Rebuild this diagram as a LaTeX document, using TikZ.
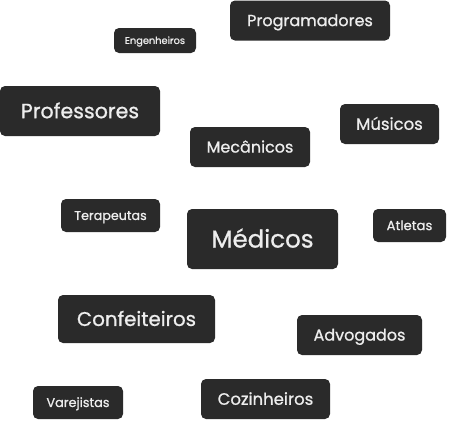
\documentclass[tikz,border=0pt]{standalone}
\usepackage{fontspec}
\setmainfont{Poppins}[FakeBold=0.9]
\definecolor{boxfill}{HTML}{2A2A2A}
\definecolor{boxtext}{HTML}{EDEDED}
\tikzset{
  tag/.style={fill=boxfill, text=boxtext, rounded corners=5pt, inner sep=0pt, anchor=center,
    font=\fontsize{#1}{#1}\selectfont,
    /utils/exec={\pgfmathsetmacro\capht{0.7*#1}},
    text height=\capht pt, text depth=0pt},
}
\begin{document}
\begin{tikzpicture}[x=1pt,y=-1pt]
\path[use as bounding box] (0,0) rectangle (473,429);
\node[tag=16, minimum width=160pt, minimum height=40pt] (prog) at (310,20.5) {Programadores};
\node[tag=9.8, minimum width=82pt, minimum height=25pt] (eng) at (155,40.5) {Engenheiros};
\node[tag=20.6, minimum width=160pt, minimum height=50pt] (prof) at (80,111) {Professores};
\node[tag=16.5, minimum width=99pt, minimum height=40pt] (mus) at (389.5,124) {Músicos};
\node[tag=16, minimum width=120pt, minimum height=40pt] (mec) at (250,147) {Mecânicos};
\node[tag=12.7, minimum width=99pt, minimum height=33pt] (ter) at (110.5,215.5) {Terapeutas};
\node[tag=24.5, minimum width=151pt, minimum height=60pt] (med) at (262.5,239) {Médicos};
\node[tag=13.2, minimum width=73pt, minimum height=33pt] (atl) at (409.5,225.5) {Atletas};
\node[tag=19.8, minimum width=157pt, minimum height=48pt] (conf) at (136.5,319) {Confeiteiros};
\node[tag=16, minimum width=125pt, minimum height=40pt] (adv) at (359.5,335) {Advogados};
\node[tag=12.8, minimum width=90pt, minimum height=33pt] (var) at (78,402.5) {Varejistas};
\node[tag=16.5, minimum width=129pt, minimum height=40pt] (coz) at (265.5,399) {Cozinheiros};
\end{tikzpicture}
\end{document}
